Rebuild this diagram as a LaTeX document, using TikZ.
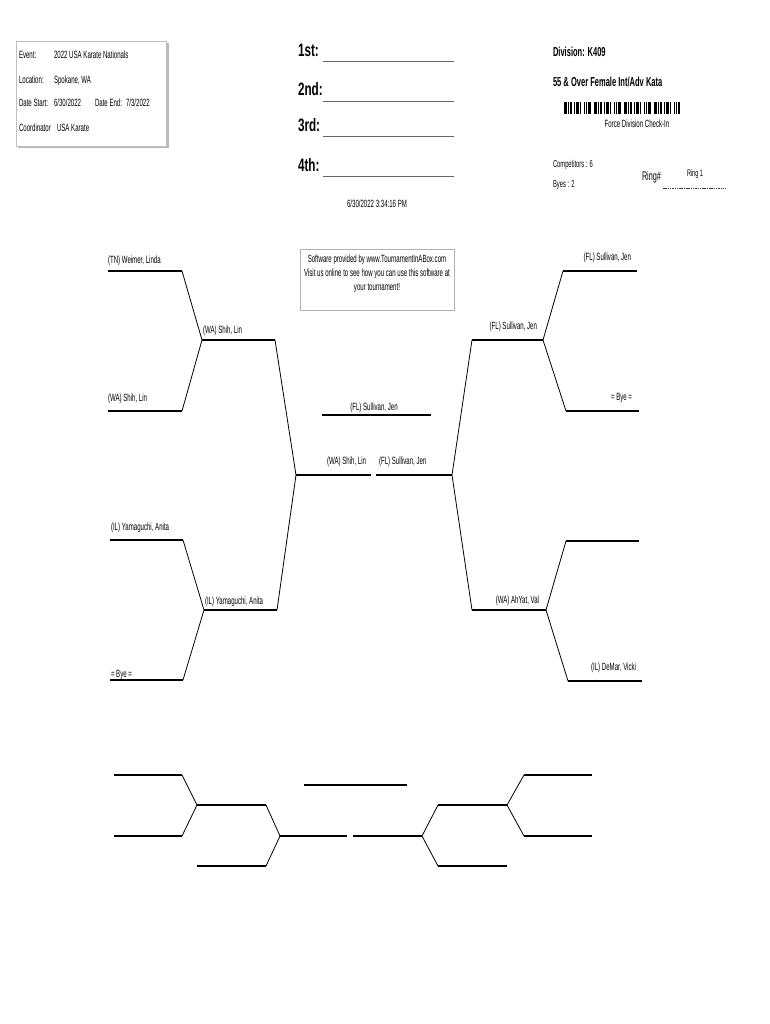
\documentclass[tikz,border=0pt]{standalone}
\usepackage{fontspec}
\setmainfont[FakeStretch=0.58]{Liberation Sans}
\newfontfamily\hdrfont[FakeStretch=0.65]{Liberation Sans}
\begin{document}
\begin{tikzpicture}[x=1pt,y=-1pt,
  lbl/.style={font=\fontsize{10.5}{12}\selectfont, inner sep=0pt, outer sep=0pt},
  hdr/.style={font=\hdrfont\bfseries\fontsize{18}{20}\selectfont, inner sep=0pt, outer sep=0pt, anchor=base west},
  div/.style={font=\bfseries\fontsize{13}{15}\selectfont, inner sep=0pt, outer sep=0pt, anchor=base west},
  hl/.style={line width=1.5pt, black},
  dg/.style={line width=0.8pt, black},
  rule/.style={line width=0.8pt, gray!80!black}
]
\useasboundingbox (0,0) rectangle (770,1024);

% ---------- event box ----------
\fill[gray!55] (166,43) rectangle (168.5,148.5);
\fill[gray!55] (18,146) rectangle (168.5,148.5);
\draw[gray!50, line width=0.5pt] (16,41) rectangle (166,146);
\node[lbl, anchor=base west] (ev)  at (19,59)  {Event:};
\node[lbl, anchor=base west] (evv) at (54,59)  {2022 USA Karate Nationals};
\node[lbl, anchor=base west] (lo)  at (19,83.5) {Location:};
\node[lbl, anchor=base west] (lov) at (54,83.5) {Spokane, WA};
\node[lbl, anchor=base west] (ds)  at (19,107) {Date Start:};
\node[lbl, anchor=base west] (dsv) at (54,107) {6/30/2022};
\node[lbl, anchor=base west] (de)  at (95,107) {Date End:};
\node[lbl, anchor=base west] (dev) at (126,107) {7/3/2022};
\node[lbl, anchor=base west] (co)  at (19,132) {Coordinator};
\node[lbl, anchor=base west] (cov) at (57,132) {USA Karate};

% ---------- placings ----------
\node[hdr] (p1) at (298,57)  {1st:};
\node[hdr] (p2) at (298,96)  {2nd:};
\node[hdr] (p3) at (298,132) {3rd:};
\node[hdr] (p4) at (298,172) {4th:};
\coordinate (p1a) at (323,61);  \coordinate (p1b) at (454,61);
\coordinate (p2a) at (323,101); \coordinate (p2b) at (454,101);
\coordinate (p3a) at (323,136); \coordinate (p3b) at (454,136);
\coordinate (p4a) at (323,176); \coordinate (p4b) at (454,176);
\draw[rule] (p1a) -- (p1b);
\draw[rule] (p2a) -- (p2b);
\draw[rule] (p3a) -- (p3b);
\draw[rule] (p4a) -- (p4b);
\node[lbl, anchor=base] (ts) at (377,208) {6/30/2022 3:34:16 PM};

% ---------- division ----------
\node[div] (dv) at (553,57) {Division: K409};
\node[div] (dn) at (553,87) {55 \& Over Female Int/Adv Kata};
\foreach \i in {0,...,57}{
  \pgfmathtruncatemacro\m{mod(\i,5)}
  \pgfmathtruncatemacro\n{mod(\i*7,3)}
  \ifnum\m=4\relax\else
    \ifnum\n=0\relax
      \fill[black] ({564+2*\i},102) rectangle ++(1.5,12);
    \else
      \fill[black] ({564+2*\i},102) rectangle ++(1.0,12);
    \fi
  \fi
}
\node[lbl, anchor=base] (fc) at (637,128) {Force Division Check-In};
\node[lbl, anchor=base west, font=\fontsize{10}{12}\selectfont] (cp) at (553,168) {Competitors : 6};
\node[lbl, anchor=base west, font=\fontsize{10}{12}\selectfont] (by) at (553,188) {Byes : 2};
\node[lbl, anchor=base west, font=\fontsize{12.5}{14}\selectfont] (rg) at (642,181) {Ring\#};
\coordinate (ru1) at (663,188); \coordinate (ru2) at (726,188);
\draw[gray!40!black, line width=0.8pt, dash pattern=on 1.5pt off 0.8pt] (ru1) -- (ru2);
\node[lbl, anchor=base, font=\fontsize{9.5}{11}\selectfont] (r1) at (695,177) {Ring 1};

% ---------- software box ----------
\node[draw=gray!60, line width=0.5pt, minimum width=154pt, minimum height=61pt, inner sep=0pt] (sw) at (377,279.5) {};
\node[lbl, anchor=base] (sw1) at (377,262) {Software provided by www.TournamentInABox.com};
\node[lbl, anchor=base] (sw2) at (377,276) {Visit us online to see how you can use this software at};
\node[lbl, anchor=base] (sw3) at (377,290) {your tournament!};

% ---------- main bracket: coordinates ----------
\coordinate (a1s) at (108,271); \coordinate (a1e) at (182,271);
\coordinate (a2s) at (108,411); \coordinate (a2e) at (182,411);
\coordinate (j1)  at (202,340); \coordinate (j1e) at (275,340);
\coordinate (a3s) at (110,540); \coordinate (a3e) at (183,540);
\coordinate (a4s) at (110,680); \coordinate (a4e) at (183,680);
\coordinate (j2)  at (204,610); \coordinate (j2e) at (277,610);
\coordinate (sl)  at (296,475); \coordinate (sle) at (371,475);
\coordinate (sr)  at (376,475); \coordinate (sre) at (452,475);
\coordinate (k1e) at (472,340); \coordinate (k1)  at (543,340);
\coordinate (b1s) at (563,271); \coordinate (b1e) at (637,271);
\coordinate (b2s) at (566,411); \coordinate (b2e) at (639,411);
\coordinate (k2e) at (472,610); \coordinate (k2)  at (546,610);
\coordinate (b3s) at (566,541); \coordinate (b3e) at (639,541);
\coordinate (b4s) at (568,681); \coordinate (b4e) at (642,681);
\coordinate (fa)  at (322,415); \coordinate (fb)  at (431,415);

% horizontals
\draw[hl] (a1s) -- (a1e);
\draw[hl] (a2s) -- (a2e);
\draw[hl] (j1) -- (j1e);
\draw[hl] (a3s) -- (a3e);
\draw[hl] (a4s) -- (a4e);
\draw[hl] (j2) -- (j2e);
\draw[hl] (sl) -- (sle);
\draw[hl] (sr) -- (sre);
\draw[hl] (k1e) -- (k1);
\draw[hl] (b1s) -- (b1e);
\draw[hl] (b2s) -- (b2e);
\draw[hl] (k2e) -- (k2);
\draw[hl] (b3s) -- (b3e);
\draw[hl] (b4s) -- (b4e);
\draw[hl] (fa) -- (fb);
% diagonals
\draw[dg] (a1e) -- (j1) -- (a2e);
\draw[dg] (a3e) -- (j2) -- (a4e);
\draw[dg] (j1e) -- (sl) -- (j2e);
\draw[dg] (k1e) -- (sre) -- (k2e);
\draw[dg] (b1s) -- (k1) -- (b2s);
\draw[dg] (b3s) -- (k2) -- (b4s);

% labels
\node[lbl, anchor=base west] (n1) at (108,263) {(TN) Weimer, Linda};
\node[lbl, anchor=base west] (n2) at (108,401) {(WA) Shih, Lin};
\node[lbl, anchor=base west] (n3) at (203,333) {(WA) Shih, Lin};
\node[lbl, anchor=base west] (n4) at (111,530) {(IL) Yamaguchi, Anita};
\node[lbl, anchor=base west] (n5) at (111,677) {= Bye =};
\node[lbl, anchor=base west] (n6) at (205,604) {(IL) Yamaguchi, Anita};
\node[lbl, anchor=base]      (n7) at (374,410) {(FL) Sullivan, Jen};
\node[lbl, anchor=base west] (n8) at (327,464) {(WA) Shih, Lin};
\node[lbl, anchor=base west] (n9) at (379,464) {(FL) Sullivan, Jen};
\node[lbl, anchor=base east] (m1) at (631,260) {(FL) Sullivan, Jen};
\node[lbl, anchor=base east] (m2) at (537,329) {(FL) Sullivan, Jen};
\node[lbl, anchor=base east] (m3) at (632,400) {= Bye =};
\node[lbl, anchor=base east] (m4) at (539,603) {(WA) AhYat, Val};
\node[lbl, anchor=base east] (m5) at (636,670) {(IL) DeMar, Vicki};

% ---------- lower empty bracket ----------
\coordinate (c1s) at (114,775); \coordinate (c1e) at (182,775);
\coordinate (c2s) at (114,836); \coordinate (c2e) at (182,836);
\coordinate (cj1) at (197,805); \coordinate (cj1e) at (266,805);
\coordinate (c3s) at (197,866); \coordinate (c3e) at (266,866);
\coordinate (cj2) at (280,836); \coordinate (cj2e) at (347,836);
\coordinate (cf1) at (304,785); \coordinate (cf2) at (407,785);
\coordinate (dj2e) at (353,836); \coordinate (dj2) at (422,836);
\coordinate (dj1e) at (438,805); \coordinate (dj1) at (507,805);
\coordinate (d3s) at (438,866); \coordinate (d3e) at (507,866);
\coordinate (d1s) at (524,775); \coordinate (d1e) at (592,775);
\coordinate (d2s) at (524,836); \coordinate (d2e) at (592,836);

\draw[hl] (c1s) -- (c1e);
\draw[hl] (c2s) -- (c2e);
\draw[hl] (cj1) -- (cj1e);
\draw[hl] (c3s) -- (c3e);
\draw[hl] (cj2) -- (cj2e);
\draw[hl] (cf1) -- (cf2);
\draw[hl] (dj2e) -- (dj2);
\draw[hl] (dj1e) -- (dj1);
\draw[hl] (d3s) -- (d3e);
\draw[hl] (d1s) -- (d1e);
\draw[hl] (d2s) -- (d2e);
\draw[dg] (c1e) -- (cj1) -- (c2e);
\draw[dg] (cj1e) -- (cj2) -- (c3e);
\draw[dg] (dj1e) -- (dj2) -- (d3s);
\draw[dg] (d1s) -- (dj1) -- (d2s);
\end{tikzpicture}
\end{document}
